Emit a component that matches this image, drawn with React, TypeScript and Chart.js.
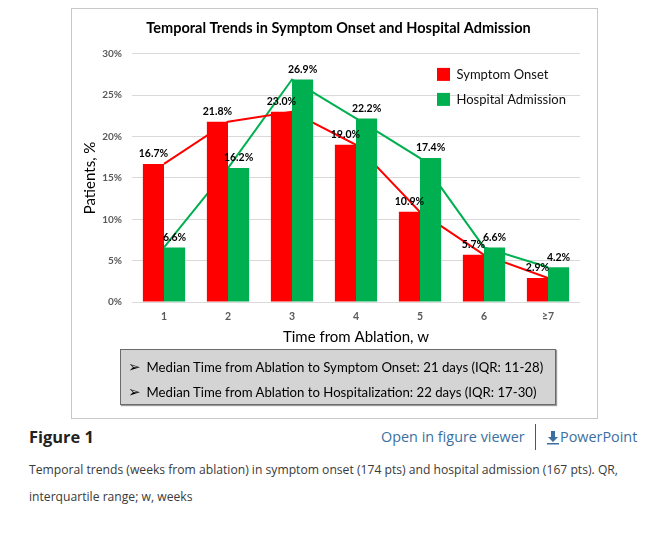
import React, { useEffect, useRef } from "react";
import { Chart, registerables } from "chart.js";

Chart.register(...registerables);

const categories = ["1", "2", "3", "4", "5", "6", "≥7"];
const symptomOnset = [16.7, 21.8, 23.0, 19.0, 10.9, 5.7, 2.9];
const hospitalAdmission = [6.6, 16.2, 26.9, 22.2, 17.4, 6.6, 4.2];
const seriesNames = ["Symptom Onset", "Hospital Admission"];
const seriesColors = ["#FF0000", "#00B050"];
const yMin = 0;
const yMax = 30;
const yStep = 5;
const chartTitle = "Temporal Trends in Symptom Onset and Hospital Admission";
const yTitle = "Patients, %";
const xTitle = "Time from Ablation, w";
const boxLines = [
  "Median Time from Ablation to Symptom Onset: 21 days (IQR: 11-28)",
  "Median Time from Ablation to Hospitalization: 22 days (IQR: 17-30)",
];
const captionText =
  "Temporal trends (weeks from ablation) in symptom onset (174 pts) and hospital admission (167 pts). QR,";
const captionText2 = "interquartile range; w, weeks";

const FONT = "Lato, 'DejaVu Sans', sans-serif";

const barLabelsPlugin = {
  id: "barLabels",
  afterDatasetsDraw(chart: any) {
    const ctx = chart.ctx;
    ctx.save();
    ctx.font = `bold 10.5px ${FONT}`;
    ctx.fillStyle = "#000";
    ctx.textAlign = "center";
    ctx.textBaseline = "middle";
    chart.data.datasets.forEach((ds: any, i: number) => {
      if (ds.type !== "bar") return;
      const meta = chart.getDatasetMeta(i);
      meta.data.forEach((el: any, j: number) => {
        const v = ds.data[j];
        ctx.fillText(`${v.toFixed(1)}%`, el.x, el.y - 10);
      });
    });
    ctx.restore();
  },
};

const innerLegendPlugin = {
  id: "innerLegend",
  afterDraw(chart: any) {
    const ctx = chart.ctx;
    const area = chart.chartArea;
    const x0 = area.right - 143;
    const y0 = area.top + 14;
    ctx.save();
    ctx.font = `13px ${FONT}`;
    ctx.textAlign = "left";
    ctx.textBaseline = "middle";
    seriesNames.forEach((name, i) => {
      const y = y0 + i * 25;
      ctx.fillStyle = seriesColors[i];
      ctx.fillRect(x0, y, 13, 13);
      ctx.fillStyle = "#111";
      ctx.fillText(name, x0 + 19.5, y + 6.5);
    });
    ctx.restore();
  },
};

function ChartBlock() {
  const ref = useRef<HTMLCanvasElement | null>(null);
  useEffect(() => {
    if (!ref.current) return;
    const chart = new Chart(ref.current, {
      type: "bar",
      data: {
        labels: categories,
        datasets: [
          {
            type: "bar",
            label: seriesNames[0],
            data: symptomOnset,
            backgroundColor: seriesColors[0],
            order: 1,
            categoryPercentage: 0.66,
            barPercentage: 1.0,
          } as any,
          {
            type: "bar",
            label: seriesNames[1],
            data: hospitalAdmission,
            backgroundColor: seriesColors[1],
            order: 1,
            categoryPercentage: 0.66,
            barPercentage: 1.0,
          } as any,
          {
            type: "line",
            label: seriesNames[0] + " trend",
            data: symptomOnset,
            borderColor: seriesColors[0],
            borderWidth: 2,
            pointRadius: 0,
            tension: 0,
            fill: false,
            order: 2,
          } as any,
          {
            type: "line",
            label: seriesNames[1] + " trend",
            data: hospitalAdmission,
            borderColor: seriesColors[1],
            borderWidth: 2,
            pointRadius: 0,
            tension: 0,
            fill: false,
            order: 2,
          } as any,
        ],
      },
      options: {
        animation: false,
        responsive: false,
        maintainAspectRatio: false,
        devicePixelRatio: 1,
        layout: { padding: { left: 25, right: 25, top: 0, bottom: 0 } },
        plugins: {
          legend: { display: false },
          tooltip: { enabled: false },
          title: {
            display: true,
            text: chartTitle,
            color: "#000",
            font: { family: FONT, size: 14.5, weight: "bold", lineHeight: 1.2 },
            padding: { top: 11.5, bottom: 17 },
          },
        },
        scales: {
          x: {
            grid: { display: false, drawTicks: false },
            border: { display: false },
            ticks: {
              color: "#595959",
              font: { family: FONT, size: 10.5, weight: "bold" },
              padding: 8,
            },
            title: {
              display: true,
              text: xTitle,
              color: "#000",
              font: { family: FONT, size: 15, lineHeight: 1.2 },
              padding: { top: 0, bottom: 7 },
            },
            afterFit: (s: any) => {
              s.height = 51;
            },
          },
          y: {
            min: yMin,
            max: yMax,
            grid: { color: "#d9d9d9", lineWidth: 1, drawTicks: false },
            border: { display: false },
            ticks: {
              stepSize: yStep,
              color: "#595959",
              font: { family: FONT, size: 10, weight: "bold" },
              padding: 10,
              callback: (v: any) => `${v}%`,
            },
            title: {
              display: true,
              text: yTitle,
              color: "#000",
              font: { family: FONT, size: 15, lineHeight: 1.2 },
              padding: { top: -16, bottom: 0 },
            },
            afterFit: (s: any) => {
              s.width = 35;
            },
          },
        },
      },
      plugins: [barLabelsPlugin, innerLegendPlugin],
    } as any);
    return () => chart.destroy();
  }, []);
  return <canvas ref={ref} width={533} height={345} style={{ width: 533, height: 345, display: "block" }} />;
}

export default function App() {
  return (
    <div
      style={{
        position: "fixed",
        left: 0,
        top: 0,
        width: 648,
        height: 540,
        background: "#fff",
        overflow: "hidden",
      }}
    >
      <div
        style={{
          position: "absolute",
          left: 71,
          top: 8,
          width: 525,
          height: 409,
          border: "1px solid #c8c8c8",
        }}
      />
      <div style={{ position: "absolute", left: 72, top: 8 }}>
        <ChartBlock />
      </div>
      <div
        style={{
          position: "absolute",
          left: 120,
          top: 349,
          width: 434,
          height: 54,
          border: "1px solid #6b6b6b",
          background: "#d4d4d4",
          boxShadow: "1px 1px 1px #9a9a9a",
          fontFamily: FONT,
          fontSize: 13.2,
          color: "#000",
        }}
      >
        {boxLines.map((t, i) => (
          <div
            key={i}
            style={{
              position: "absolute",
              left: 7,
              top: 7 + i * 25,
              height: 20,
              lineHeight: "20px",
              whiteSpace: "nowrap",
            }}
          >
            <span style={{ fontFamily: "'DejaVu Sans', sans-serif", fontSize: 15, fontWeight: 700, marginRight: 6 }}>➢</span>
            {t}
          </div>
        ))}
      </div>
      <div
        style={{
          position: "absolute",
          left: 29,
          top: 425,
          height: 24,
          lineHeight: "24px",
          fontFamily: "'Open Sans', sans-serif",
          fontWeight: 700,
          fontSize: 16.4,
          color: "#222",
        }}
      >
        Figure 1
      </div>
      <div
        style={{
          position: "absolute",
          left: 381,
          top: 426,
          height: 22,
          lineHeight: "22px",
          fontFamily: "'Open Sans', sans-serif",
          fontSize: 14.4,
          color: "#3b6fa0",
          whiteSpace: "nowrap",
        }}
      >
        Open in figure viewer
      </div>
      <div
        style={{
          position: "absolute",
          left: 535,
          top: 424,
          width: 1,
          height: 26,
          background: "#555",
        }}
      />
      <div
        style={{
          position: "absolute",
          left: 547,
          top: 426,
          height: 22,
          lineHeight: "22px",
          fontFamily: "'Open Sans', sans-serif",
          fontSize: 14.4,
          color: "#3b6fa0",
          whiteSpace: "nowrap",
          display: "flex",
          alignItems: "center",
        }}
      >
        <svg width="12" height="16" viewBox="0 0 12 16" style={{ marginRight: 1 }}>
          <path d="M4 2 H8 V8 H11 L6 13 L1 8 H4 Z" fill="#3b6fa0" />
          <rect x="0" y="14" width="12" height="1.5" fill="#3b6fa0" />
        </svg>
        PowerPoint
      </div>
      <div
        style={{
          position: "absolute",
          left: 29,
          top: 461,
          lineHeight: "18px",
          fontFamily: "'Open Sans', sans-serif",
          fontSize: 12.15,
          color: "#3a3a3a",
          whiteSpace: "nowrap",
        }}
      >
        {captionText}
      </div>
      <div
        style={{
          position: "absolute",
          left: 29,
          top: 488,
          lineHeight: "18px",
          fontFamily: "'Open Sans', sans-serif",
          fontSize: 12.15,
          color: "#3a3a3a",
          whiteSpace: "nowrap",
        }}
      >
        {captionText2}
      </div>
    </div>
  );
}
